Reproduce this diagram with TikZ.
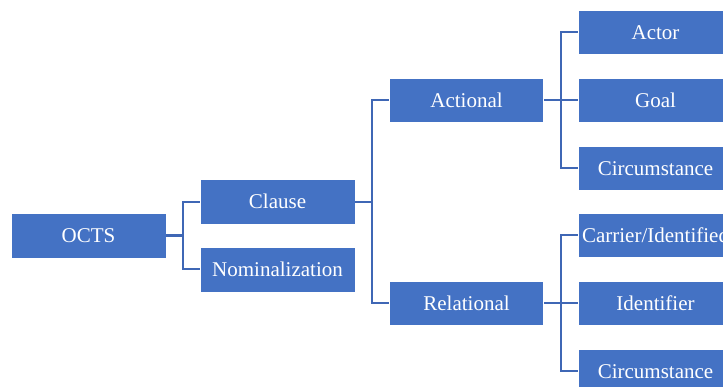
\documentclass[tikz,border=0pt]{standalone}
\usepackage{fontspec}
\setmainfont{Liberation Serif}
\definecolor{boxblue}{HTML}{4472C4}
\definecolor{lineblue}{HTML}{3F67B5}

\begin{document}
\begin{tikzpicture}[x=1pt,y=1pt,
       grow'=right,
       edge from parent path=
    {(\tikzparentnode.east) -- +(17pt,0) |- (\tikzchildnode.west)},
    edge from parent/.style={draw=lineblue,line width=2.4pt},
    level distance=189pt,
    level 1/.style={sibling distance=67.5pt},
    level 2/.style={sibling distance=203pt},
    level 3/.style={sibling distance=68pt},
   every node/.style={fill=boxblue,draw=white,text=white,
       minimum width=155pt,minimum height=45pt,inner sep=0pt,
       font=\fontsize{21}{24}\selectfont}]

\path[use as bounding box,clip] (0,0) rectangle (723,-387);

\node (octs) at (88.5,-235.5) {OCTS}
    child {node (clause) {Clause}
        child {node (actional) {Actional}
            child {node (actor) {Actor}}
            child {node (goal) {Goal}}
            child {node (circa) {Circumstance}}
        }
        child {node (relational) {Relational}
            child {node (carrier) {Carrier/Identified}}
            child {node (identifier) {Identifier}}
            child {node (circr) {Circumstance}}
        }
    }
    child {node (nominal) {Nominalization}};

\end{tikzpicture}
\end{document}
